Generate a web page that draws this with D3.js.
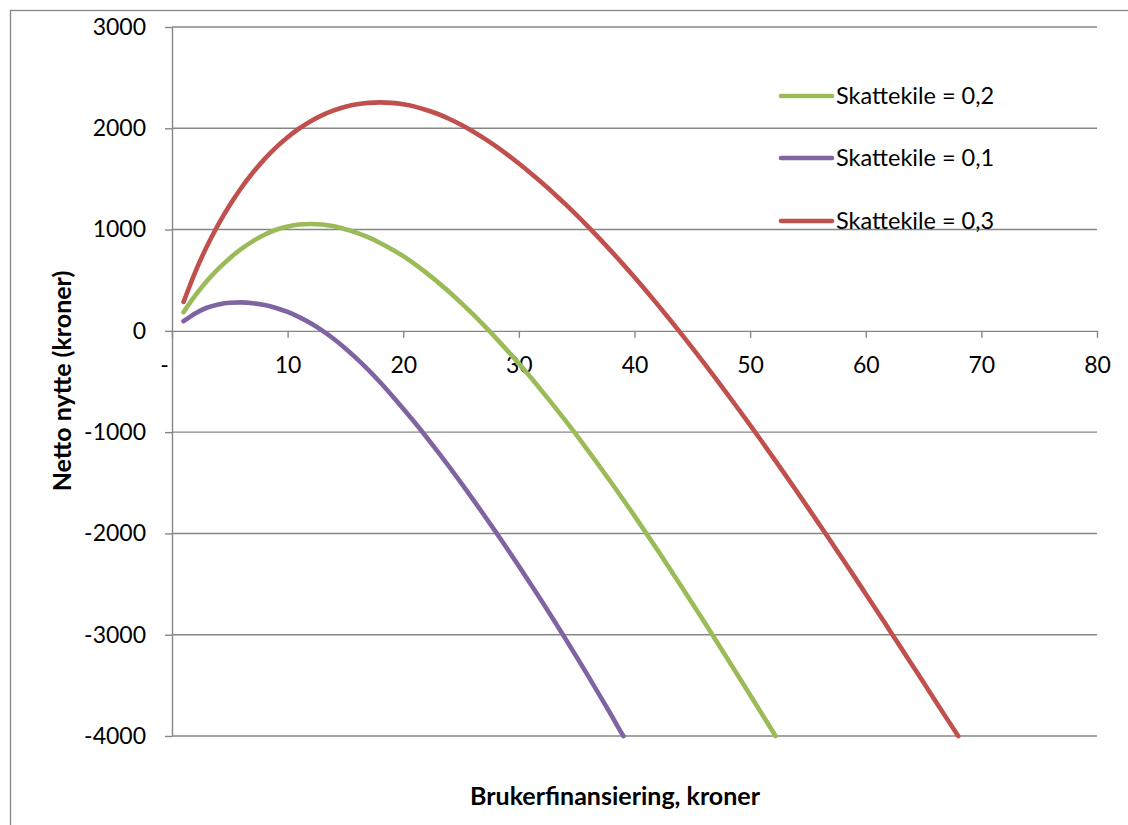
<!DOCTYPE html>
<html>
<head>
<meta charset="utf-8">
<script src="https://cdn.jsdelivr.net/npm/d3@7"></script>
<style>
  html, body { margin: 0; padding: 0; background: #fff; }
  svg { display: block; }
  text { font-family: Lato, "Open Sans", sans-serif; fill: #000; }
</style>
</head>
<body>
<svg id="chart" width="1128" height="825"></svg>
<script>
// ---- Data ----
const xTicks = [0, 10, 20, 30, 40, 50, 60, 70, 80];
const xTickLabels = ["-", "10", "20", "30", "40", "50", "60", "70", "80"];
const yTicks = [-4000, -3000, -2000, -1000, 0, 1000, 2000, 3000];
const yTickLabels = ["-4000", "-3000", "-2000", "-1000", "0", "1000", "2000", "3000"];

// Skattekile = 0,2 (green)
const x02 = [1, 2, 3, 4, 5, 6, 7, 8, 9, 10, 11, 12, 13, 14, 15, 16, 17, 18, 19, 20, 21, 22, 23, 24, 25, 26, 27, 28, 30, 32, 34, 36, 38, 40, 42, 44, 46, 48, 50, 52, 52.2];
const y02 = [185, 348, 490, 612, 718, 809, 886, 949, 998, 1031, 1050, 1055, 1050, 1032, 1004, 968, 922, 868, 806, 738, 659, 572, 479, 382, 277, 167, 51, -69, -323, -595, -882, -1184, -1500, -1827, -2165, -2513, -2868, -3230, -3595, -3963, -4000];

// Skattekile = 0,1 (purple)
const x01 = [1, 2, 3, 4, 5, 6, 7, 8, 9, 10, 11, 12, 13, 14, 15, 16, 17, 18, 19, 20, 21, 22, 23, 24, 25, 26, 27, 28, 29, 30, 31, 32, 33, 34, 35, 36, 37, 38, 39, 39.04];
const y01 = [95, 172, 228, 261, 278, 281, 273, 255, 226, 187, 136, 75, 2, -80, -173, -276, -387, -507, -635, -768, -905, -1048, -1195, -1346, -1501, -1659, -1821, -1985, -2153, -2323, -2497, -2673, -2853, -3035, -3221, -3409, -3601, -3795, -3993, -4000];

// Skattekile = 0,3 (red)
const x03 = [1, 2, 3, 4, 5, 6, 7, 8, 9, 10, 11, 12, 13, 14, 15, 16, 17, 18, 19, 20, 21, 22, 23, 24, 25, 26, 27, 28, 29, 30, 31, 32, 33, 34, 35, 36, 37, 38, 39, 40, 41, 42, 43, 44, 45, 46, 47, 48, 49, 50, 51, 52, 53, 54, 55, 56, 57, 58, 59, 60, 61, 62, 63, 64, 65, 66, 67, 68];
const y03 = [285, 578, 830, 1049, 1242, 1413, 1563, 1696, 1812, 1912, 1998, 2070, 2130, 2177, 2212, 2237, 2251, 2256, 2251, 2237, 2214, 2181, 2141, 2092, 2035, 1971, 1900, 1823, 1740, 1652, 1559, 1462, 1359, 1253, 1142, 1027, 908, 785, 659, 529, 396, 259, 120, -23, -168, -316, -466, -619, -774, -931, -1090, -1251, -1414, -1579, -1745, -1913, -2082, -2253, -2424, -2597, -2770, -2945, -3120, -3296, -3472, -3649, -3826, -4000];

const seriesNames = ["Skattekile = 0,2", "Skattekile = 0,1", "Skattekile = 0,3"];
const seriesColors = ["#9BBB59", "#8064A2", "#C0504D"];
const seriesX = [x02, x01, x03];
const seriesY = [y02, y01, y03];

// ---- Layout ----
const svg = d3.select("#chart");
const plotLeft = 172, plotRight = 1097, plotTop = 27, plotBottom = 736;
const x = d3.scaleLinear().domain([0, 80]).range([plotLeft, plotRight]);
const y = d3.scaleLinear().domain([-4000, 3000]).range([plotBottom, plotTop]);
const gridColor = "#868686";

// outer chart frame
svg.append("rect")
  .attr("x", 10.5).attr("y", 10.5)
  .attr("width", 1140).attr("height", 840)
  .attr("fill", "none").attr("stroke", gridColor).attr("stroke-width", 1.3);

// gridlines
svg.append("g").selectAll("line")
  .data(yTicks.filter(d => d !== 0))
  .join("line")
  .attr("x1", plotLeft).attr("x2", plotRight)
  .attr("y1", d => y(d)).attr("y2", d => y(d))
  .attr("stroke", gridColor).attr("stroke-width", 1.4);

// y axis
const yAxis = svg.append("g")
  .attr("transform", `translate(${plotLeft},0)`)
  .call(d3.axisLeft(y).tickValues(yTicks).tickSize(7).tickSizeOuter(0).tickPadding(19)
    .tickFormat((d, i) => yTickLabels[i]));
yAxis.select(".domain").attr("stroke", gridColor).attr("stroke-width", 1.4);
yAxis.selectAll(".tick line").attr("stroke", gridColor).attr("stroke-width", 1.4);
yAxis.selectAll("text").style("font-size", "23px").style("font-family", "Lato, sans-serif").attr("fill", "#000");

// x axis at y = 0
const xAxis = svg.append("g")
  .attr("transform", `translate(0,${y(0)})`)
  .call(d3.axisBottom(x).tickValues(xTicks).tickSize(7).tickSizeOuter(0).tickPadding(19)
    .tickFormat((d, i) => xTickLabels[i]));
xAxis.select(".domain").attr("stroke", gridColor).attr("stroke-width", 1.4);
xAxis.selectAll(".tick line").attr("stroke", gridColor).attr("stroke-width", 1.4);
xAxis.selectAll("text").style("font-size", "23px").style("font-family", "Lato, sans-serif").attr("fill", "#000")
  .attr("dx", d => d === 0 ? -8 : 0);

// series
const line = d3.line().x(d => x(d[0])).y(d => y(d[1])).curve(d3.curveMonotoneX);
seriesNames.forEach((name, i) => {
  const pts = seriesX[i].map((xv, j) => [xv, seriesY[i][j]]);
  svg.append("path")
    .datum(pts)
    .attr("d", line)
    .attr("fill", "none")
    .attr("stroke", seriesColors[i])
    .attr("stroke-width", 4.6)
    .attr("stroke-linecap", "round")
    .attr("stroke-linejoin", "round");
});

// legend
const legendY = [96, 158, 221];
const legend = svg.append("g");
seriesNames.forEach((name, i) => {
  legend.append("line")
    .attr("x1", 781).attr("x2", 832)
    .attr("y1", legendY[i]).attr("y2", legendY[i])
    .attr("stroke", seriesColors[i]).attr("stroke-width", 4.6)
    .attr("stroke-linecap", "round");
  legend.append("text")
    .attr("x", 836).attr("y", legendY[i])
    .attr("dy", "0.36em")
    .style("font-size", "23.5px")
    .text(name);
});

// axis titles
svg.append("text")
  .attr("transform", "translate(71,381) rotate(-90)")
  .attr("text-anchor", "middle")
  .style("font-size", "25px").style("font-weight", "bold")
  .text("Netto nytte (kroner)");

svg.append("text")
  .attr("x", 615).attr("y", 805)
  .attr("text-anchor", "middle")
  .style("font-size", "25px").style("font-weight", "bold")
  .text("Brukerfinansiering, kroner");
</script>
</body>
</html>
